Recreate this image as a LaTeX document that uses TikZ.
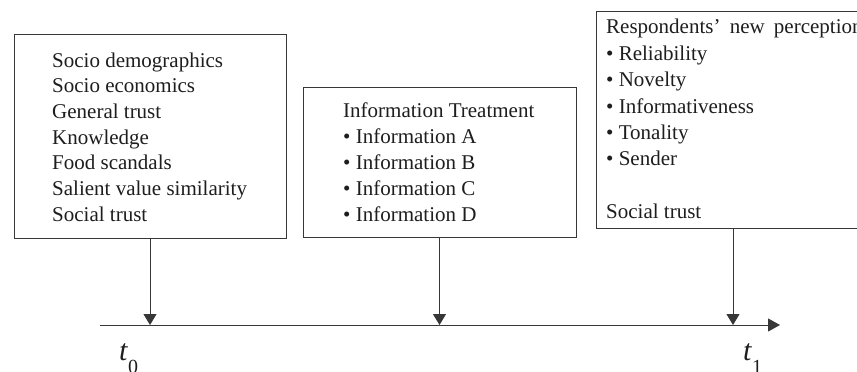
\documentclass[tikz,border=0pt]{standalone}
\usepackage{fontspec}
\setmainfont{Liberation Serif}
\usetikzlibrary{arrows.meta}
\definecolor{ln}{RGB}{55,55,55}
\definecolor{tx}{RGB}{30,30,30}
\tikzset{
  box/.style={draw=ln, line width=1pt, fill=white, inner sep=0pt},
  lbl/.style={anchor=base west, inner sep=0pt, text=tx},
  downarr/.style={draw=ln, line width=1pt, -{Triangle[length=11pt,width=13pt]}},
  axisarr/.style={draw=ln, line width=1pt, -{Triangle[length=12pt,width=13pt]}},
  tlbl/.style={anchor=base west, inner sep=0pt, text=tx, font=\fontsize{30}{30}\selectfont}
}
\begin{document}
\begin{tikzpicture}[x=1pt,y=-1pt]
\useasboundingbox (0,0) rectangle (857,372);
\clip (0,0) rectangle (857,372);
\node[box, minimum width=272pt, minimum height=204pt] (b1) at (150,136) {};
\node[box, minimum width=273pt, minimum height=150pt] (b2) at (439.5,162) {};
\node[box, minimum width=274pt, minimum height=217pt] (b3) at (733,119.5) {};
\node[lbl, font=\fontsize{21}{25.7}\selectfont] (t1) at (52,67) {\begin{tabular}[t]{@{}l@{}}Socio demographics\\Socio economics\\General trust\\Knowledge\\Food scandals\\Salient value similarity\\Social trust\end{tabular}};
\node[lbl, font=\fontsize{21}{26}\selectfont] (t2) at (343,117) {\begin{tabular}[t]{@{}l@{}}Information Treatment\\\textbullet\ Information A\\\textbullet\ Information B\\\textbullet\ Information C\\\textbullet\ Information D\end{tabular}};
\node[lbl, font=\fontsize{21}{26.4}\selectfont] (t3) at (606,34) {\begin{tabular}[t]{@{}l@{}}Respondents’\hspace{4pt} new\hspace{4pt} perceptions\\\textbullet\ Reliability\\\textbullet\ Novelty\\\textbullet\ Informativeness\\\textbullet\ Tonality\\\textbullet\ Sender\\[26.4pt]Social trust\end{tabular}};
\coordinate (ax0) at (100,325);
\coordinate (ax1) at (780,325);
\coordinate (a1) at (150,325);
\coordinate (a2) at (439.5,325);
\coordinate (a3) at (733,325);
\draw[axisarr] (ax0) -- (ax1);
\draw[downarr] (b1.south) -- (a1);
\draw[downarr] (b2.south) -- (a2);
\draw[downarr] (b3.south) -- (a3);
\node[tlbl] (l0) at (119,360) {\textit{t}\raisebox{-13pt}{\fontsize{20}{20}\selectfont 0}};
\node[tlbl] (l1) at (743,360) {\textit{t}\raisebox{-13pt}{\fontsize{20}{20}\selectfont 1}};
\end{tikzpicture}
\end{document}
